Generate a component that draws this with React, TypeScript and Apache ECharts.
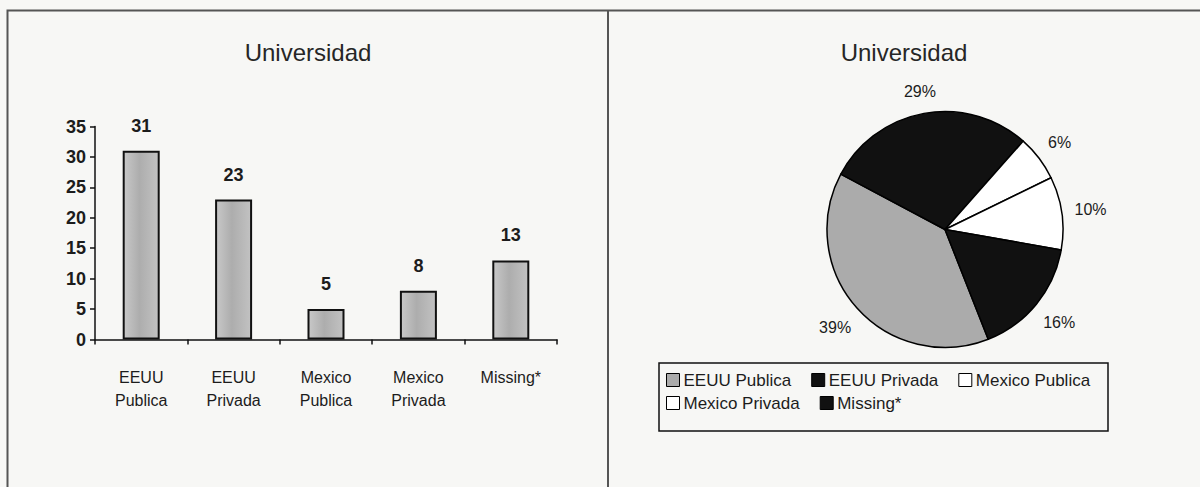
import React, { useEffect, useRef } from 'react';
import * as echarts from 'echarts';

// University type counts
const categories = ['EEUU Publica', 'EEUU Privada', 'Mexico Publica', 'Mexico Privada', 'Missing*'];
const counts = [31, 23, 5, 8, 13];

// Value axis ticks
const yMin = 0;
const yMax = 35;
const yInterval = 5;

// Pie slice fills, same order as categories
const sliceColors = ['#ababab', '#111111', '#ffffff', '#ffffff', '#111111'];

// Legend rows
const legendRowOne = categories.slice(0, 3);
const legendRowTwo = categories.slice(3);

const chartTitle = 'Universidad';

const FONT = "'Liberation Sans', Arial, Helvetica, sans-serif";
const TEXT = '#1c1c1c';

// Pie geometry
const PIE_CX = 945;
const PIE_CY = 229.5;
const PIE_R = 118;
const PIE_START = 291.5; // ECharts degrees, clockwise sweep
const LABEL_GAP = 12;

export default function App() {
  const ref = useRef<HTMLDivElement>(null);

  useEffect(() => {
    if (!ref.current) return;
    const chart = echarts.init(ref.current, undefined, { renderer: 'svg' });

    const total = counts.reduce((a, b) => a + b, 0);
    const startFromTop = 90 - PIE_START; // clockwise degrees from 12 o'clock
    let acc = 0;
    const midAngles = counts.map((v) => {
      const a = startFromTop + ((acc + v / 2) / total) * 360;
      acc += v;
      return a;
    });

    const barFill = new echarts.graphic.LinearGradient(0, 0, 1, 0, [
      { offset: 0, color: '#c8c8c8' },
      { offset: 0.45, color: '#adadad' },
      { offset: 1, color: '#c2c2c2' },
    ]);

    const legendCommon = {
      orient: 'horizontal' as const,
      left: 666,
      padding: 0,
      itemGap: 20,
      itemWidth: 13,
      itemHeight: 13,
      icon: 'rect',
      selectedMode: false,
      itemStyle: { borderColor: '#000', borderWidth: 1 },
      textStyle: { fontFamily: FONT, fontSize: 17, lineHeight: 17, color: TEXT, padding: [0, 0, 0, -1] },
    };

    const titleStyle = { fontFamily: FONT, fontSize: 24, fontWeight: 'normal' as const, color: '#262626' };

    chart.setOption({
      animation: false,
      backgroundColor: '#f7f7f5',
      title: [
        { text: chartTitle, left: 308, top: 52.5, padding: 0, textAlign: 'center', textVerticalAlign: 'middle', textStyle: titleStyle },
        { text: chartTitle, left: 904, top: 52.5, padding: 0, textAlign: 'center', textVerticalAlign: 'middle', textStyle: titleStyle },
      ],
      legend: [
        { ...legendCommon, top: 371.5, data: legendRowOne },
        { ...legendCommon, top: 394.5, data: legendRowTwo },
      ],
      grid: { left: 95, top: 126.5, width: 462, height: 213 },
      xAxis: {
        type: 'category',
        data: categories,
        axisLine: { lineStyle: { color: '#111', width: 1.5 } },
        axisTick: { show: true, length: 5, lineStyle: { color: '#111', width: 1.5 } },
        axisLabel: {
          interval: 0,
          margin: 26,
          fontFamily: FONT,
          fontSize: 16,
          lineHeight: 23,
          color: TEXT,
          formatter: (v: string) => v.replace(' ', '\n'),
        },
      },
      yAxis: {
        type: 'value',
        min: yMin,
        max: yMax,
        interval: yInterval,
        splitLine: { show: false },
        axisLine: { show: true, lineStyle: { color: '#111', width: 1.5 } },
        axisTick: { show: true, length: 5, lineStyle: { color: '#111', width: 1.5 } },
        axisLabel: { margin: 9, fontFamily: FONT, fontSize: 18, fontWeight: 'bold', color: TEXT },
      },
      graphic: [
        {
          type: 'polyline',
          silent: true,
          shape: { points: [[7.5, 487], [7.5, 10.5], [1200, 10.5]] },
          style: { stroke: '#555', lineWidth: 2, fill: null },
        },
        {
          type: 'line',
          silent: true,
          shape: { x1: 608, y1: 10.5, x2: 608, y2: 487 },
          style: { stroke: '#555', lineWidth: 2 },
        },
        {
          type: 'rect',
          silent: true,
          shape: { x: 659, y: 363, width: 449, height: 68 },
          style: { stroke: '#111', lineWidth: 1.5, fill: null },
        },
      ],
      series: [
        {
          name: chartTitle,
          type: 'bar',
          data: counts,
          barWidth: 37,
          itemStyle: { color: barFill, borderColor: '#111', borderWidth: 2 },
          label: {
            show: true,
            position: 'top',
            distance: 16,
            fontFamily: FONT,
            fontSize: 18,
            fontWeight: 'bold',
            color: TEXT,
          },
        },
        {
          name: 'Universidad (%)',
          type: 'pie',
          center: [PIE_CX, PIE_CY],
          radius: PIE_R,
          startAngle: PIE_START,
          clockwise: true,
          percentPrecision: 0,
          avoidLabelOverlap: false,
          data: categories.map((name, i) => ({
            name,
            value: counts[i],
            itemStyle: { color: sliceColors[i] },
          })),
          itemStyle: { borderColor: '#000', borderWidth: 1.5 },
          emphasis: { disabled: true },
          label: {
            show: true,
            position: 'outside',
            formatter: '{d}%',
            fontFamily: FONT,
            fontSize: 16,
            color: TEXT,
          },
          labelLine: { show: false },
          labelLayout: (params: any) => {
            const th = (midAngles[params.dataIndex] * Math.PI) / 180;
            const sx = Math.sin(th);
            const sy = -Math.cos(th);
            const w = params.labelRect.width;
            const h = params.labelRect.height;
            const ext = Math.abs(sx) * (w / 2) + Math.abs(sy) * (h / 2);
            const r = PIE_R + LABEL_GAP + ext;
            return {
              x: PIE_CX + sx * r,
              y: PIE_CY + sy * r,
              align: 'center',
              verticalAlign: 'middle',
            };
          },
        },
      ],
    });

    return () => chart.dispose();
  }, []);

  return (
    <div
      ref={ref}
      style={{ position: 'absolute', left: 0, top: 0, width: 1200, height: 487 }}
    />
  );
}
